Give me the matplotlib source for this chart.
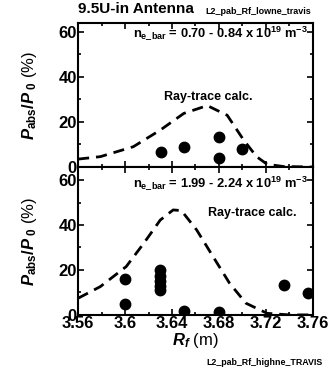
import numpy as np
import matplotlib.pyplot as plt
from matplotlib.ticker import MultipleLocator

plt.rcParams['font.family'] = 'Liberation Sans'
plt.rcParams['font.weight'] = 'bold'
plt.rcParams['mathtext.fontset'] = 'custom'
plt.rcParams['mathtext.rm'] = 'Liberation Sans:bold'
plt.rcParams['mathtext.it'] = 'Liberation Sans:italic:bold'
plt.rcParams['mathtext.bf'] = 'Liberation Sans:bold'

# low density: ray-trace curve and measured points
rf_calc_low = [3.56, 3.579, 3.607, 3.630, 3.650, 3.670, 3.687, 3.701, 3.712, 3.721, 3.735, 3.76]
pabs_calc_low = [3.5, 4.6, 9.0, 16.4, 23.8, 27.3, 23.0, 12.0, 4.6, 1.2, 0.2, 0.0]
rf_meas_low = [3.631, 3.650, 3.680, 3.680, 3.700]
pabs_meas_low = [6.8, 8.9, 13.2, 3.8, 7.8]

# high density
rf_calc_high = [3.56, 3.579, 3.601, 3.616, 3.630, 3.641, 3.648, 3.661, 3.675, 3.689, 3.703, 3.721, 3.74, 3.76]
pabs_calc_high = [7.4, 12.6, 21.5, 31.9, 42.2, 46.7, 46.4, 37.8, 25.9, 14.1, 5.2, 0.7, 0.0, 0.0]
rf_meas_high = [3.60, 3.60, 3.63, 3.63, 3.63, 3.63, 3.63, 3.65, 3.68, 3.735, 3.756]
pabs_meas_high = [16.0, 4.7, 20.0, 17.5, 15.2, 13.0, 10.9, 1.9, 1.5, 13.3, 9.6]

xticks = [3.56, 3.6, 3.64, 3.68, 3.72, 3.76]
xticklabels = ['3.56', '3.6', '3.64', '3.68', '3.72', '3.76']

fig = plt.figure(figsize=(3.28, 3.74), dpi=100)
ax1 = fig.add_axes([0.238, 0.5535, 0.716, 0.385])
ax2 = fig.add_axes([0.238, 0.158, 0.716, 0.3955])

ylab = r'$P_{\rm abs}/P_{\ 0}$ (%)'

def style(ax, ymax):
    ax.set_xlim(3.56, 3.76)
    ax.set_ylim(0, ymax)
    ax.set_xticks(xticks)
    ax.xaxis.set_minor_locator(MultipleLocator(0.02))
    ax.set_yticks([0, 20, 40, 60])
    ax.yaxis.set_minor_locator(MultipleLocator(10))
    ax.tick_params(which='both', direction='in', top=True, right=True, width=1.2)
    ax.tick_params(which='major', length=4, labelsize=12, pad=1)
    ax.tick_params(which='minor', length=2)
    for s in ax.spines.values():
        s.set_linewidth(1.5)
    ax.set_ylabel(ylab, fontsize=12, labelpad=14)

# top panel
ax1.plot(rf_calc_low, pabs_calc_low, 'k--', lw=2, dashes=(4, 2.5))
ax1.plot(rf_meas_low, pabs_meas_low, 'ko', ms=7.5)
style(ax1, 64)
ax1.set_xticklabels([])
ax1.text(3.756, 59.5, r'n$_{\rm e\_bar}$ = 0.70 - 0.84 x 10$^{19}$ m$^{-3}$',
         ha='right', va='center', fontsize=9.3)
ax1.text(3.671, 31, 'Ray-trace calc.', ha='center', va='center', fontsize=9)

# bottom panel
ax2.plot(rf_calc_high, pabs_calc_high, 'k--', lw=2, dashes=(4, 2.5))
ax2.plot(rf_meas_high, pabs_meas_high, 'ko', ms=7.5)
style(ax2, 65.8)
ax2.set_xticklabels(xticklabels)
ax2.set_xlabel(r'$R_{f}$ (m)', fontsize=12, labelpad=0)
ax2.text(3.756, 58.5, r'n$_{\rm e\_bar}$ = 1.99 - 2.24 x 10$^{19}$ m$^{-3}$',
         ha='right', va='center', fontsize=9.3)
ax2.text(3.708, 45.3, 'Ray-trace calc.', ha='center', va='center', fontsize=9)

fig.text(0.413, 0.975, '9.5U-in Antenna', ha='center', va='center', fontsize=11)
fig.text(0.625, 0.968, 'L2_pab_Rf_lowne_travis', ha='left', va='center', fontsize=6.5)
fig.text(0.985, 0.032, 'L2_pab_Rf_highne_TRAVIS', ha='right', va='center', fontsize=6.4)

fig.savefig('out.png', dpi=100)
